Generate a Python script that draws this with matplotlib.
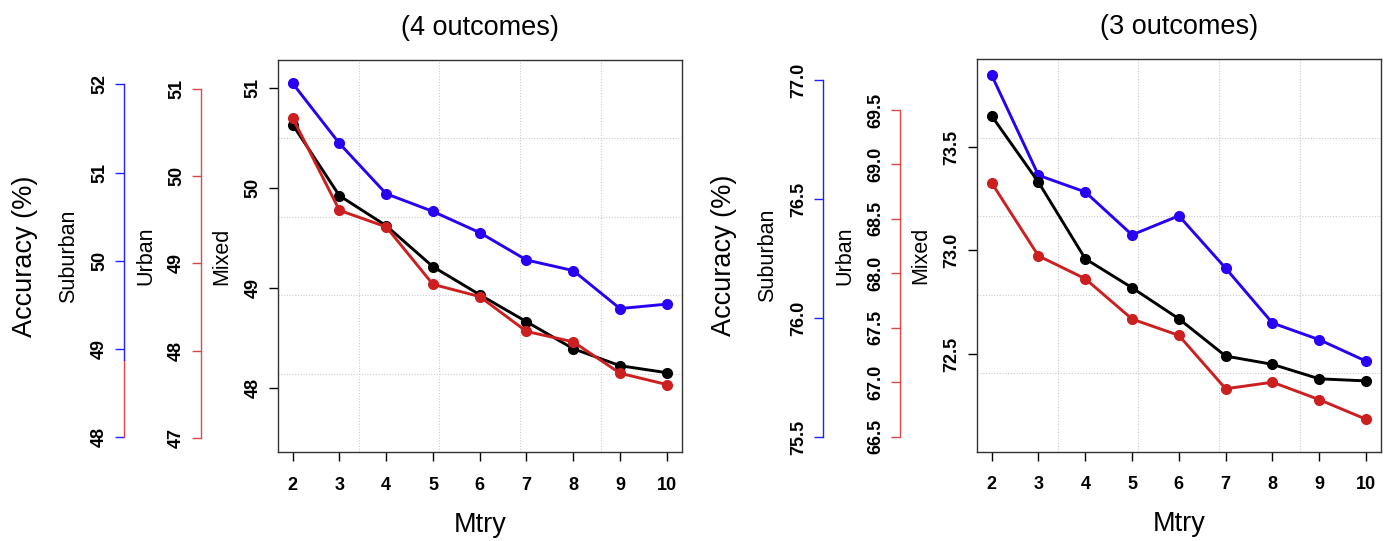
import matplotlib
matplotlib.use("Agg")
import matplotlib.pyplot as plt
import matplotlib.transforms as mtransforms

plt.rcParams['font.family'] = ['Liberation Sans', 'DejaVu Sans']

mtry = [2, 3, 4, 5, 6, 7, 8, 9, 10]

# (4 outcomes)
mixed_4 = [50.63, 49.92, 49.62, 49.21, 48.93, 48.66, 48.39, 48.22, 48.15]
urban_4 = [50.67, 49.61, 49.42, 48.76, 48.62, 48.22, 48.10, 47.74, 47.61]
suburban_4 = [52.01, 51.33, 50.76, 50.56, 50.32, 50.01, 49.89, 49.46, 49.51]

# (3 outcomes)
mixed_3 = [73.65, 73.33, 72.96, 72.82, 72.67, 72.49, 72.45, 72.38, 72.37]
urban_3 = [68.83, 68.16, 67.95, 67.58, 67.43, 66.94, 67.00, 66.84, 66.66]
suburban_3 = [77.02, 76.60, 76.53, 76.35, 76.43, 76.21, 75.98, 75.91, 75.82]

ticks_4 = {'mixed': [48, 49, 50, 51], 'urban': [47, 48, 49, 50, 51],
           'suburban': [48, 49, 50, 51, 52]}
ticks_3 = {'mixed': [72.5, 73.0, 73.5],
           'urban': [66.5, 67.0, 67.5, 68.0, 68.5, 69.0, 69.5],
           'suburban': [75.5, 76.0, 76.5, 77.0]}

W, H = 1391, 541
LINE_BLUE = '#2a00f5'
LINE_RED = '#cc2020'
SPINE_RED = '#e04848'
SPINE_BLUE = '#2020ff'
TICK_SIZE = 13


def px_rect(left, top, right, bottom):
    return [left / W, (H - bottom) / H, (right - left) / W, (bottom - top) / H]


def style_axis(a, color, ticks, fmt, offset):
    for s in ['top', 'right', 'bottom']:
        a.spines[s].set_visible(False)
    a.yaxis.set_ticks_position('left')
    a.spines['left'].set_position(('axes', offset))
    a.spines['left'].set_color(color)
    a.spines['left'].set_linewidth(1.0)
    a.spines['left'].set_bounds(ticks[0], ticks[-1])
    a.set_yticks(ticks)
    a.set_yticklabels([fmt.format(t) for t in ticks])
    a.tick_params(axis='y', direction='out', length=6.5, width=1.0, color=color,
                  pad=5, labelsize=TICK_SIZE, labelrotation=90)
    for lab in a.get_yticklabels():
        lab.set_fontweight('bold')
        lab.set_va('center')
    a.patch.set_visible(False)
    a.xaxis.set_visible(False)


def draw_panel(fig, rect, title, mixed, urban, suburban, lims, ticks, fmt,
               split_spine=None):
    ax = fig.add_axes(rect)
    ax_s = ax.twinx()
    ax_u = ax.twinx()
    ax_s.set_zorder(1)
    ax.set_zorder(2)
    ax_u.set_zorder(3)
    ax.patch.set_visible(False)

    width_px = rect[2] * W
    off_u = -76.7 / width_px
    off_s = -153.6 / width_px

    # grid (R grid(5, 5) style)
    for f in [0.2, 0.4, 0.6, 0.8]:
        ax_s.plot([f, f], [0, 1], transform=ax_s.transAxes, color='#cccccc',
                  ls=(0, (1, 1.5)), lw=0.8, zorder=0)
        ax_s.plot([0, 1], [f, f], transform=ax_s.transAxes, color='#cccccc',
                  ls=(0, (1, 1.5)), lw=0.8, zorder=0)

    ax_s.plot(mtry, suburban, color=LINE_BLUE, lw=2.1, marker='o', ms=7)
    ax.plot(mtry, mixed, color='black', lw=2.1, marker='o', ms=7)
    ax_u.plot(mtry, urban, color=LINE_RED, lw=2.1, marker='o', ms=7)

    ax.set_xlim(1.68, 10.32)
    ax.set_ylim(*lims['mixed'])
    ax_u.set_ylim(*lims['urban'])
    ax_s.set_ylim(*lims['suburban'])

    ax.set_xticks(mtry)
    ax.tick_params(axis='x', direction='out', length=6.5, width=1.0, pad=11,
                   labelsize=TICK_SIZE)
    for lab in ax.get_xticklabels():
        lab.set_fontweight('bold')
    ax.set_yticks(ticks['mixed'])
    ax.set_yticklabels([fmt.format(t) for t in ticks['mixed']])
    ax.tick_params(axis='y', direction='out', length=6.5, width=1.0, pad=5,
                   labelsize=TICK_SIZE, labelrotation=90)
    for lab in ax.get_yticklabels():
        lab.set_fontweight('bold')
        lab.set_va('center')
    for s in ax.spines.values():
        s.set_color('#333333')
        s.set_linewidth(1.0)
    ax.yaxis.tick_left()
    ax.yaxis.set_label_position('left')

    style_axis(ax_u, SPINE_RED, ticks['urban'], fmt, off_u)
    style_axis(ax_s, SPINE_BLUE, ticks['suburban'], fmt, off_s)

    if split_spine is not None:
        lo, hi = split_spine
        ax_s.spines['left'].set_bounds(hi, ticks['suburban'][-1])
        tr = mtransforms.blended_transform_factory(ax_s.transAxes, ax_s.transData)
        ax_s.plot([off_s, off_s], [lo, hi], transform=tr, color=SPINE_RED,
                  lw=1.0, clip_on=False)
        ax_s.yaxis.get_major_ticks()[0].tick1line.set_color(SPINE_RED)

    # axis names
    for dx, txt, size in [(-55.5, 'Mixed', 15.5), (-131.5, 'Urban', 15.5),
                          (-209.5, 'Suburban', 15.5), (-252.5, 'Accuracy (%)', 19.5)]:
        ax.text(dx / width_px, 0.5, txt, transform=ax.transAxes, rotation=90,
                ha='center', va='center', fontsize=size)

    ax.set_title(title, fontsize=19.5, pad=18)
    ax.set_xlabel('Mtry', fontsize=19.5, labelpad=13)
    return ax


fig = plt.figure(figsize=(W / 100, H / 100), dpi=100)

lims_4 = {'mixed': (47.354, 51.277), 'urban': (46.832, 51.336),
          'suburban': (47.832, 52.275)}
lims_3 = {'mixed': (72.028, 73.925), 'urban': (66.362, 69.968),
          'suburban': (75.440, 77.088)}

draw_panel(fig, px_rect(277.7, 60, 681.7, 452.3), '(4 outcomes)',
           mixed_4, urban_4, suburban_4, lims_4, ticks_4, '{:g}',
           split_spine=(48.0, 48.88))
draw_panel(fig, px_rect(976.7, 59, 1381, 451.7), '(3 outcomes)',
           mixed_3, urban_3, suburban_3, lims_3, ticks_3, '{:.1f}')

fig.savefig('out.png', dpi=100)
